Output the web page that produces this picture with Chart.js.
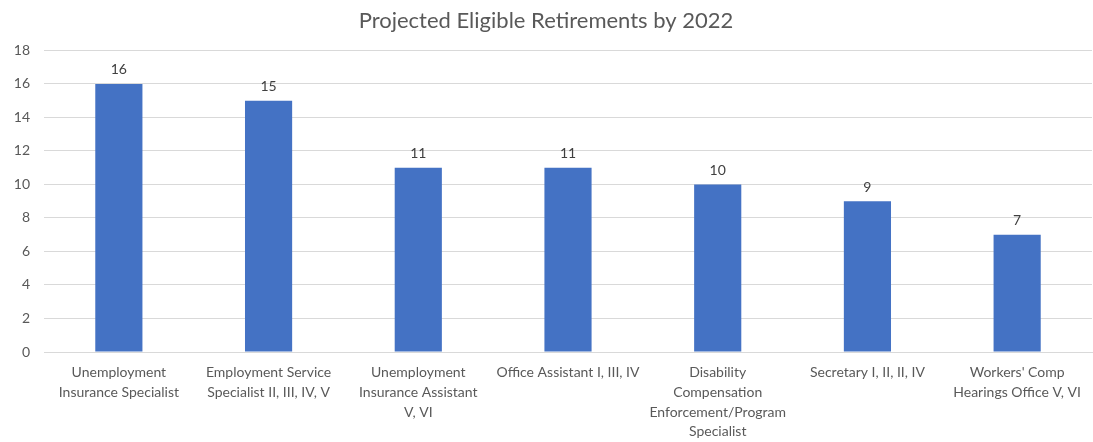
<!DOCTYPE html>
<html>
<head>
<meta charset="utf-8">
<script src="https://cdn.jsdelivr.net/npm/chart.js@4/dist/chart.umd.min.js"></script>
<style>
  html, body { margin: 0; padding: 0; background: #fff; }
  #wrap { width: 1093px; height: 442px; }
</style>
</head>
<body>
<div id="wrap"><canvas id="barChart"></canvas></div>
<script>
// Job classes, one multi-line label each
const categories = [
    ['Unemployment', 'Insurance Specialist'],
    ['Employment Service', 'Specialist II, III, IV, V'],
    ['Unemployment', 'Insurance Assistant', 'V, VI'],
    ['Office Assistant I, III, IV'],
    ['Disability', 'Compensation', 'Enforcement/Program', 'Specialist'],
    ['Secretary I, II, II, IV'],
    ["Workers' Comp", 'Hearings Office V, VI']
];
const retirements = [16, 15, 11, 11, 10, 9, 7];
const yTicks = [0, 2, 4, 6, 8, 10, 12, 14, 16, 18];

const font = 'Lato, "Open Sans", sans-serif';

// Value labels above each bar
const barValues = {
    id: 'barValues',
    afterDatasetsDraw(chart) {
        const ctx = chart.ctx;
        const meta = chart.getDatasetMeta(0);
        ctx.save();
        ctx.font = '14px ' + font;
        ctx.fillStyle = '#404040';
        ctx.textAlign = 'center';
        ctx.textBaseline = 'bottom';
        meta.data.forEach((bar, i) => {
            ctx.fillText(retirements[i], bar.x, bar.y - 7);
        });
        ctx.restore();
    }
};

const ctx = document.getElementById('barChart').getContext('2d');
new Chart(ctx, {
    type: 'bar',
    data: {
        labels: categories,
        datasets: [
            {
                label: 'Retirements',
                data: retirements,
                backgroundColor: '#4472C4',
                categoryPercentage: 1.0,
                barPercentage: 0.315
            }
        ]
    },
    options: {
        responsive: true,
        maintainAspectRatio: false,
        animation: false,
        layout: { padding: { left: 0, right: 1, top: 8, bottom: 0 } },
        plugins: {
            legend: { display: false },
            tooltip: { enabled: false },
            title: {
                display: true,
                text: 'Projected Eligible Retirements by 2022',
                color: '#595959',
                font: { family: font, size: 22, weight: 'normal' },
                padding: { top: 0, bottom: 16 }
            }
        },
        scales: {
            x: {
                afterFit(scale) { scale.height = 90; },
                grid: { display: false, drawTicks: false },
                border: { color: '#d9d9d9' },
                ticks: {
                    color: '#595959',
                    font: { family: font, size: 14, lineHeight: 1.4 },
                    maxRotation: 0,
                    autoSkip: false,
                    padding: 11
                }
            },
            y: {
                min: 0,
                max: 18,
                afterFit(scale) { scale.width = 44; },
                afterBuildTicks(scale) {
                    scale.ticks = yTicks.map(v => ({ value: v }));
                },
                grid: { color: '#d9d9d9', drawTicks: false },
                border: { display: false },
                ticks: {
                    color: '#595959',
                    font: { family: font, size: 14 },
                    padding: 14
                }
            }
        }
    },
    plugins: [barValues]
});
</script>
</body>
</html>
